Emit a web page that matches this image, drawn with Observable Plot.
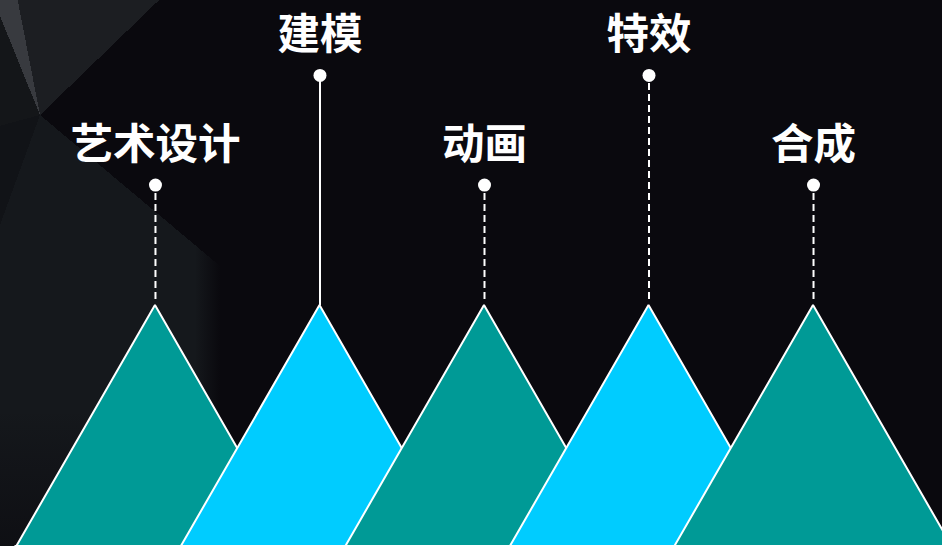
<!DOCTYPE html>
<html>
<head>
<meta charset="utf-8">
<script src="https://cdn.jsdelivr.net/npm/d3@7"></script>
<script src="https://cdn.jsdelivr.net/npm/@observablehq/plot@0.6"></script>
<style>
  html, body { margin: 0; padding: 0; }
  body {
    width: 942px; height: 546px; overflow: hidden;
    background-color: #0a090e;
    background-image:
      linear-gradient(to bottom, rgba(10,9,14,0) 0 75%, rgba(10,9,14,0.6) 100%),
      linear-gradient(to right, rgba(10,9,14,0) 0 195px, #0a090e 220px),
      conic-gradient(from 0deg at 40px 115px,
        #1c1e22 0deg 46deg,
        rgba(10,9,14,0) 46deg 130deg,
        #15181c 130deg 200deg,
        #111317 200deg 255deg,
        #141619 255deg 338deg,
        #383a3f 338deg 349deg,
        #1c1e22 349deg 360deg);
  }
  #chart svg { display: block; }
</style>
</head>
<body>
<div id="chart"></div>
<script>
// Data
const categories = ["艺术设计", "建模", "动画", "特效", "合成"];
const positions = [0, 1, 2, 3, 4];
const peakHeight = [1, 1, 1, 1, 1];
const halfWidth = 0.851;
const dotLevel = [1.5, 1.955, 1.5, 1.955, 1.5];
const fills = ["#009A96", "#00CCFF", "#009A96", "#00CCFF", "#009A96"];
const stemSolid = [false, true, false, false, false];

const rows = categories.map((c, i) => ({
  cat: c, x: positions[i], h: peakHeight[i], dot: dotLevel[i], fill: fills[i], solid: stemSolid[i]
}));

// triangle vertices built from the data rows
const tri = rows.flatMap(r => [
  {cat: r.cat, x: r.x - halfWidth, y: -0.01, fill: r.fill},
  {cat: r.cat, x: r.x, y: r.h, fill: r.fill},
  {cat: r.cat, x: r.x + halfWidth, y: -0.01, fill: r.fill}
]);

const plot = Plot.plot({
  width: 942,
  height: 546,
  margin: 0,
  style: {background: "transparent", overflow: "visible"},
  x: {domain: [-0.942, 4.784], axis: null},
  y: {domain: [0, 2.266], axis: null},
  color: {type: "identity"},
  marks: [
    Plot.ruleX(rows.filter(r => !r.solid), {x: "x", y1: d => d.h + 0.025, y2: "dot", stroke: "white", strokeWidth: 2, strokeDasharray: "7,4"}),
    Plot.ruleX(rows.filter(r => r.solid), {x: "x", y1: "h", y2: "dot", stroke: "white", strokeWidth: 2}),
    Plot.areaY(tri, {x: "x", y: "y", z: "cat", fill: "fill", stroke: "white", strokeWidth: 2, strokeLinejoin: "miter"}),
    Plot.dot(rows, {x: "x", y: "dot", r: 6.5, fill: "white"}),
    Plot.text(rows, {x: "x", y: "dot", text: "cat", dy: -40, fill: "white", fontSize: 42.5, fontWeight: "bold", fontFamily: "'Noto Sans CJK SC', sans-serif"})
  ]
});
document.getElementById("chart").appendChild(plot);
</script>
</body>
</html>
